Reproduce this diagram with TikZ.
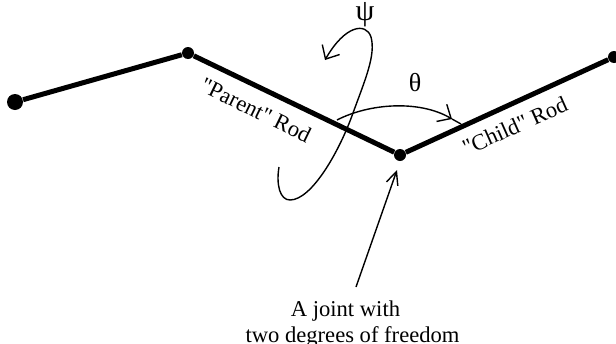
\documentclass[tikz,border=0pt]{standalone}
\usepackage{fontspec}
\setmainfont{Liberation Serif}
\newfontfamily\rodfont{Liberation Serif}
\usetikzlibrary{arrows.meta,positioning}
\tikzset{
  joint/.style={circle,fill=black,inner sep=0pt,minimum size=6pt},
  rod/.style={line width=2.5pt},
  turn/.style={line width=0.7pt},
  rodlabel/.style={font=\fontsize{11.3}{13}\rodfont,inner sep=0pt}
}
\begin{document}
\begin{tikzpicture}[x=0.5pt,y=-0.5pt,>={Straight Barb[length=5.5pt,width=10pt]}]
  \useasboundingbox (0,0) rectangle (616,343);
  % rods
  \node[joint,minimum size=8pt] (base) at (15,102) {};
  \node[joint] (parent) at (188,53) {};
  \node[joint] (hinge) at (400,155) {};
  \node[joint] (tip) at (614,57) {};
  \draw[rod] (base)--(parent);
  \draw[rod] (parent)--(hinge);
  \draw[rod] (hinge)--(tip);
  \node[rodlabel,rotate=-26] (parentlabel) at (256,110) {"Parent" Rod};
  \node[rodlabel,rotate=24] (childlabel) at (515,126) {"Child" Rod};
  % the two angles
  \coordinate (psistart) at (279,167);
  \coordinate (psiend) at (325,60);
  \draw[->,turn] (psistart) .. controls (276,185) and (280,200) .. (290,200)
    .. controls (312,200) and (340,150) .. (353,113)
    .. controls (365,80) and (376,55) .. (371,37)
    .. controls (366,22) and (345,25) .. (psiend);
  \node[font=\fontsize{15}{16}\selectfont,inner sep=0pt] (psi) at (365,15) {ψ};
  \coordinate (thetastart) at (337,120);
  \coordinate (thetahead) at (452,119);
  \coordinate (thetaend) at (461,124);
  \draw[->,turn] (thetastart) .. controls (370,103) and (420,100) .. (thetahead);
  \draw[turn] (thetahead)--(thetaend);
  \node[font=\fontsize{13}{15}\selectfont,inner sep=0pt] (theta) at (415,83) {θ};
  % the callout
  \node[font=\fontsize{11.3}{12.8}\selectfont,align=center,inner sep=0pt] (note) at (352.5,324) {A joint with\kern7pt\\two degrees of freedom};
  \coordinate (notestart) at (356,287);
  \coordinate (noteend) at (397,170);
  \draw[->,turn,>={Straight Barb[length=6.5pt,width=6pt]}] (notestart)--(noteend);
\end{tikzpicture}
\end{document}
